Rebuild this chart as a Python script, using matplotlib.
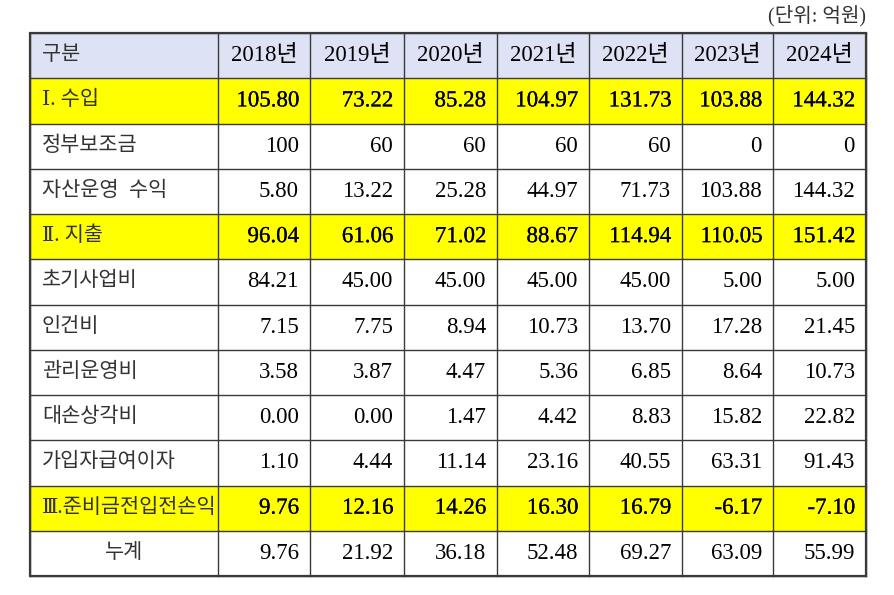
import matplotlib as mpl; mpl.use("Agg")
import matplotlib.pyplot as plt
from matplotlib.patches import Rectangle
import matplotlib.patheffects as pe

FONT = ["Liberation Serif", "DejaVu Serif", "Noto Sans CJK KR", "DejaVu Sans"]
plt.rcParams["font.family"] = FONT

# ---- data ----
years = ["2018년", "2019년", "2020년", "2021년", "2022년", "2023년", "2024년"]
row_labels = ["Ⅰ. 수입", "정부보조금", "자산운영  수익", "Ⅱ. 지출", "초기사업비", "인건비",
              "관리운영비", "대손상각비", "가입자급여이자", "Ⅲ.준비금전입전손익", "누계"]
income      = [105.80, 73.22, 85.28, 104.97, 131.73, 103.88, 144.32]
subsidy     = [100, 60, 60, 60, 60, 0, 0]
asset_inc   = [5.80, 13.22, 25.28, 44.97, 71.73, 103.88, 144.32]
expense     = [96.04, 61.06, 71.02, 88.67, 114.94, 110.05, 151.42]
init_cost   = [84.21, 45.00, 45.00, 45.00, 45.00, 5.00, 5.00]
labor       = [7.15, 7.75, 8.94, 10.73, 13.70, 17.28, 21.45]
admin       = [3.58, 3.87, 4.47, 5.36, 6.85, 8.64, 10.73]
bad_debt    = [0.00, 0.00, 1.47, 4.42, 8.83, 15.82, 22.82]
member_int  = [1.10, 4.44, 11.14, 23.16, 40.55, 63.31, 91.43]
pre_reserve = [9.76, 12.16, 14.26, 16.30, 16.79, -6.17, -7.10]
cumulative  = [9.76, 21.92, 36.18, 52.48, 69.27, 63.09, 55.99]
rows = [income, subsidy, asset_inc, expense, init_cost, labor, admin, bad_debt,
        member_int, pre_reserve, cumulative]
highlight = {0, 3, 9}

# ---- layout (pixels) ----
W, H = 895, 595
col_x = [30, 218, 310, 404, 497, 589, 682, 773, 866]
top, bot = 33, 576
rh = (bot - top) / (len(rows) + 1)

fig = plt.figure(figsize=(W / 100, H / 100), dpi=100)
ax = fig.add_axes([0, 0, 1, 1])
ax.set_xlim(0, W); ax.set_ylim(H, 0); ax.axis("off")

LINE = "#3a3a3a"
KFS = 15    # korean label size
NFS = 16.5  # number size
# slightly heavier strokes on the yellow rows, like the scanned original
hl_fx = [pe.withStroke(linewidth=0.15, foreground="#000")]

# header
ax.add_patch(Rectangle((col_x[0], top), col_x[-1] - col_x[0], rh, fc="#dde3f4", ec="none"))
ax.text(42, top + rh / 2, "구분", ha="left", va="center", fontsize=KFS, color="#333")
for j, y in enumerate(years):
    ax.text((col_x[j + 1] + col_x[j + 2]) / 2, top + rh / 2, y, ha="center", va="center",
            fontsize=NFS, color="#000")

for i, (lab, vals) in enumerate(zip(row_labels, rows)):
    y0 = top + rh * (i + 1); yc = y0 + rh / 2
    if i in highlight:
        ax.add_patch(Rectangle((col_x[0], y0), col_x[-1] - col_x[0], rh, fc="#ffff00", ec="none"))
    if lab == "누계":
        ax.text((col_x[0] + col_x[1]) / 2, yc, lab, ha="center", va="center", fontsize=KFS, color="#333")
    else:
        ax.text(42, yc, lab, ha="left", va="center", fontsize=KFS, color="#333")
    fmt = "{:.0f}" if lab == "정부보조금" else "{:.2f}"
    for j, v in enumerate(vals):
        ax.text(col_x[j + 2] - 11, yc, fmt.format(v), ha="right", va="center", fontsize=NFS,
                color="#000", path_effects=hl_fx if i in highlight else None)

# grid lines
for k in range(len(rows) + 2):
    yy = top + rh * k
    ax.plot([col_x[0], col_x[-1]], [yy, yy], color=LINE, lw=1.0, solid_capstyle="projecting")
for x in col_x:
    ax.plot([x, x], [top, bot], color=LINE, lw=1.0, solid_capstyle="projecting")
ax.add_patch(Rectangle((col_x[0], top), col_x[-1] - col_x[0], bot - top, fc="none", ec=LINE, lw=1.6))

ax.text(866, 16, "(단위: 억원)", ha="right", va="center", fontsize=14.5, color="#333")

fig.savefig("out.png", dpi=100)
